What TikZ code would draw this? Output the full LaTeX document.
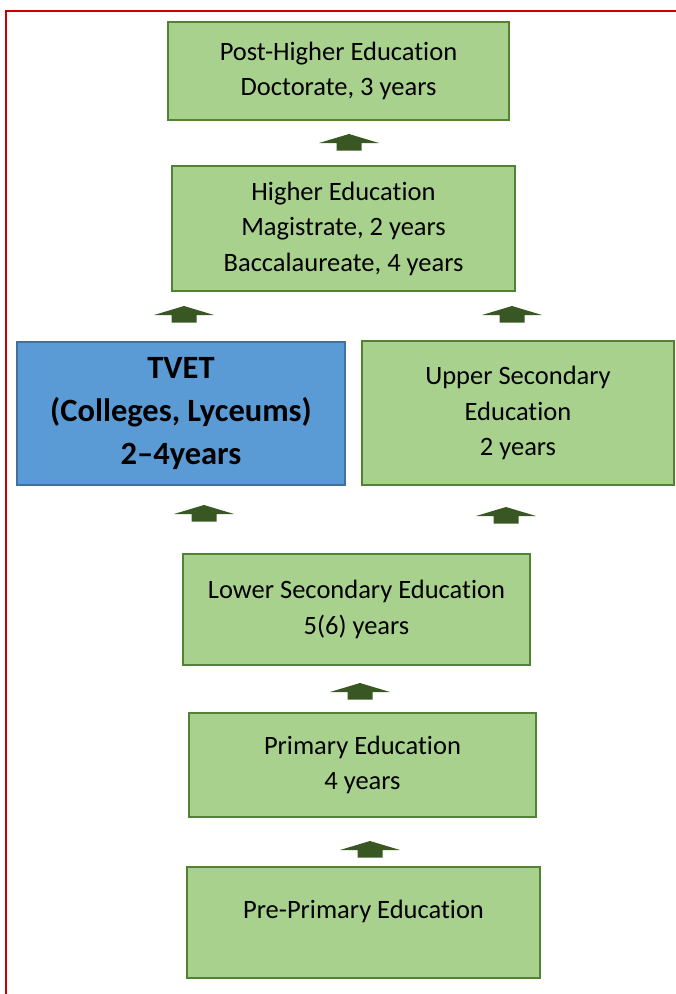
\documentclass[tikz,border=0pt]{standalone}
\usepackage{fontspec}
\setmainfont{Carlito}[Ligatures={TeX,NoCommon}]

\definecolor{boxgreen}{RGB}{169,209,142}
\definecolor{edgegreen}{RGB}{84,130,53}
\definecolor{boxblue}{RGB}{91,155,213}
\definecolor{edgeblue}{RGB}{65,113,156}
\definecolor{arrowgreen}{RGB}{56,87,35}
\definecolor{framered}{RGB}{200,0,0}

\begin{document}
\begin{tikzpicture}[x=1pt,y=-1pt]
    \tikzstyle{level} = [draw=edgegreen,fill=boxgreen,line width=2pt,align=center,inner sep=0pt,font=\fontsize{26.5}{35.5}\selectfont]
\tikzstyle{tvet} = [level,draw=edgeblue,fill=boxblue,font=\fontsize{32.5}{43}\selectfont\bfseries]

\tikzset{uparrow/.pic={\fill[arrowgreen] (0,0) -- (30,9) -- (12.5,9) -- (12.5,16.5) -- (-12.5,16.5) -- (-12.5,9) -- (-30,9) -- cycle;}}

\useasboundingbox (0,0) rectangle (676,994);
\draw[framered,line width=2pt] (676,11) -- (6,11) -- (6,994);

\node[level,minimum width=341,minimum height=98] (post) at (338.5,71) {Post-Higher Education\\Doctorate, 3 years};
\node[level,minimum width=343,minimum height=125] (higher) at (343.5,228.5) {Higher Education\\Magistrate, 2 years\\Baccalaureate, 4 years};
\node[tvet,minimum width=328,minimum height=143] (tvet) at (181,413.5) {TVET\\(Colleges, Lyceums)\\2--4years};
\node[level,minimum width=312,minimum height=144] (upper) at (518,413) {Upper Secondary\\Education\\2 years};
\node[level,minimum width=347,minimum height=111] (lower) at (356.5,609.5) {Lower Secondary Education\\5(6) years};
\node[level,minimum width=347,minimum height=104] (primary) at (362.5,765) {Primary Education\\4 years};
\node[level,minimum width=353,minimum height=111,label={[yshift=11pt,font=\fontsize{26.5}{35.5}\selectfont]center:Pre-Primary Education}] (pre) at (363.5,922.5) {};

\pic at (349,134) {uparrow};
\pic at (184,306) {uparrow};
\pic at (512,306) {uparrow};
\pic at (204,505) {uparrow};
\pic at (506,507) {uparrow};
\pic at (360,683) {uparrow};
\pic at (370,841) {uparrow};
\end{tikzpicture}
\end{document}
